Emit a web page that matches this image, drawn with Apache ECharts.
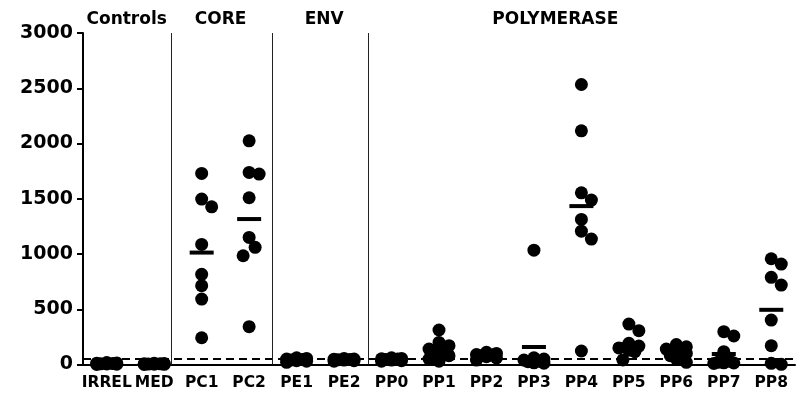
<!DOCTYPE html>
<html>
<head>
<meta charset="utf-8">
<script src="https://cdn.jsdelivr.net/npm/echarts@6/dist/echarts.min.js"></script>
<style>html,body{margin:0;padding:0;background:#fff;}#chart{width:806px;height:417px;}</style>
</head>
<body>
<div id="chart"></div>
<script>
// ---- data ----
const categories = ['IRREL','MED','PC1','PC2','PE1','PE2','PP0','PP1','PP2','PP3','PP4','PP5','PP6','PP7','PP8'];
const IRREL = [5, 12, 0, 18, 8, 3, 14, 6];
const MED   = [0, 6, 2, 10, 4, 12, 3, 7];
const PC1   = [1729, 1497, 1427, 1087, 816, 713, 592, 242];
const PC2   = [2024, 1738, 1723, 1509, 1150, 1060, 984, 342];
const PE1   = [30, 45, 55, 40, 20, 60, 35, 50];
const PE2   = [35, 45, 55, 40, 30, 50, 42, 48];
const PP0   = [40, 55, 50, 35, 60, 45, 30, 52];
const PP1   = [312, 200, 170, 140, 110, 80, 50, 30];
const PP2   = [60, 80, 100, 110, 90, 70, 40, 85];
const PP3   = [1035, 60, 50, 40, 30, 25, 15, 12];
const PP4   = [2534, 2115, 1554, 1488, 1313, 1207, 1135, 122];
const PP5   = [366, 306, 192, 167, 150, 130, 116, 41];
const PP6   = [180, 160, 140, 120, 100, 80, 50, 20];
const PP7   = [297, 258, 116, 30, 20, 15, 14, 10];
const PP8   = [957, 909, 789, 719, 402, 170, 2, 11];
const groupValues = [IRREL, MED, PC1, PC2, PE1, PE2, PP0, PP1, PP2, PP3, PP4, PP5, PP6, PP7, PP8];
const yTicks = [0, 500, 1000, 1500, 2000, 2500, 3000];
const cutoff = 50;
const groupNames = ['Controls', 'CORE', 'ENV', 'POLYMERASE'];
const groupLabelPos = [0.42, 2.4, 4.58, 9.45];
const groupBreaks = [1.36, 3.48, 5.51];

// ---- layout ----
const GRID = {left: 83, right: 11, top: 33, bottom: 52.5};
const W = 806, H = 417;
const catW = (W - GRID.left - GRID.right) / categories.length;
const pxPerUnit = (H - GRID.top - GRID.bottom) / (yTicks[yTicks.length-1] - yTicks[0]);
const FONT = 'DejaVu Sans';

function swarm(vals) {
  const D = 11;
  const cands = [0, 6, -6, 10, -10];
  const placed = [];
  const out = new Array(vals.length);
  const order = vals.map((v, i) => i).sort((a, b) => vals[b] - vals[a]);
  order.forEach(i => {
    const y = vals[i] * pxPerUnit;
    let best = 0, bestScore = -1;
    for (const c of cands) {
      let m = Infinity;
      placed.forEach(p => { m = Math.min(m, Math.hypot(p[0] - c, p[1] - y)); });
      if (m >= D) { best = c; break; }
      if (m > bestScore) { bestScore = m; best = c; }
    }
    placed.push([best, y]);
    out[i] = best / catW;
  });
  return out;
}

const dots = [];
groupValues.forEach((vals, gi) => {
  const offs = swarm(vals);
  vals.forEach((v, k) => dots.push([gi + offs[k], v]));
});
const means = groupValues.map(vals => vals.reduce((a, b) => a + b, 0) / vals.length);

const chart = echarts.init(document.getElementById('chart'), null, {renderer: 'canvas'});
const option = {
  animation: false,
  backgroundColor: '#fff',
  grid: GRID,
  xAxis: [{
    type: 'category',
    data: categories,
    boundaryGap: true,
    axisLine: {onZero: false, lineStyle: {color: '#000', width: 2}},
    axisTick: {show: false},
    axisLabel: {color: '#000', fontFamily: FONT, fontWeight: 'bold', fontSize: 15.5, margin: 10, interval: 0}
  }, {
    type: 'value',
    min: -0.5,
    max: categories.length - 0.5,
    show: false
  }],
  yAxis: {
    type: 'value',
    min: yTicks[0],
    max: yTicks[yTicks.length - 1],
    interval: yTicks[1] - yTicks[0],
    axisLine: {show: true, onZero: false, lineStyle: {color: '#000', width: 2}},
    axisTick: {show: true, length: 6, lineStyle: {color: '#000', width: 2}},
    splitLine: {show: false},
    axisLabel: {color: '#000', fontFamily: FONT, fontWeight: 'bold', fontSize: 19, margin: 10,
                formatter: v => String(v)}
  },
  series: [{
    type: 'line',
    xAxisIndex: 1,
    data: [],
    z: 1,
    markLine: {
      silent: true,
      symbol: 'none',
      label: {show: false},
      data: [
        {yAxis: cutoff, lineStyle: {color: '#000', width: 2, type: [8, 5]}}
      ].concat(groupBreaks.map(b => ({xAxis: b, lineStyle: {color: '#222', width: 1, type: 'solid'}})))
    }
  }, {
    type: 'scatter',
    xAxisIndex: 1,
    data: dots,
    symbol: 'circle',
    symbolSize: 13,
    itemStyle: {color: '#000', opacity: 1},
    z: 3
  }, {
    type: 'scatter',
    xAxisIndex: 0,
    data: means.map((m, i) => [categories[i], m]),
    symbol: 'rect',
    symbolSize: [24, 4],
    itemStyle: {color: '#000', opacity: 1},
    z: 4
  }]
};
chart.setOption(option);

const yLab = 20;
chart.setOption({
  graphic: groupNames.map((name, i) => ({
    type: 'text',
    x: chart.convertToPixel({xAxisIndex: 1}, groupLabelPos[i]),
    y: yLab,
    style: {
      text: name, fill: '#000', font: 'bold 17px "' + FONT + '"',
      textAlign: 'center', textVerticalAlign: 'middle'
    }
  }))
});
</script>
</body>
</html>
